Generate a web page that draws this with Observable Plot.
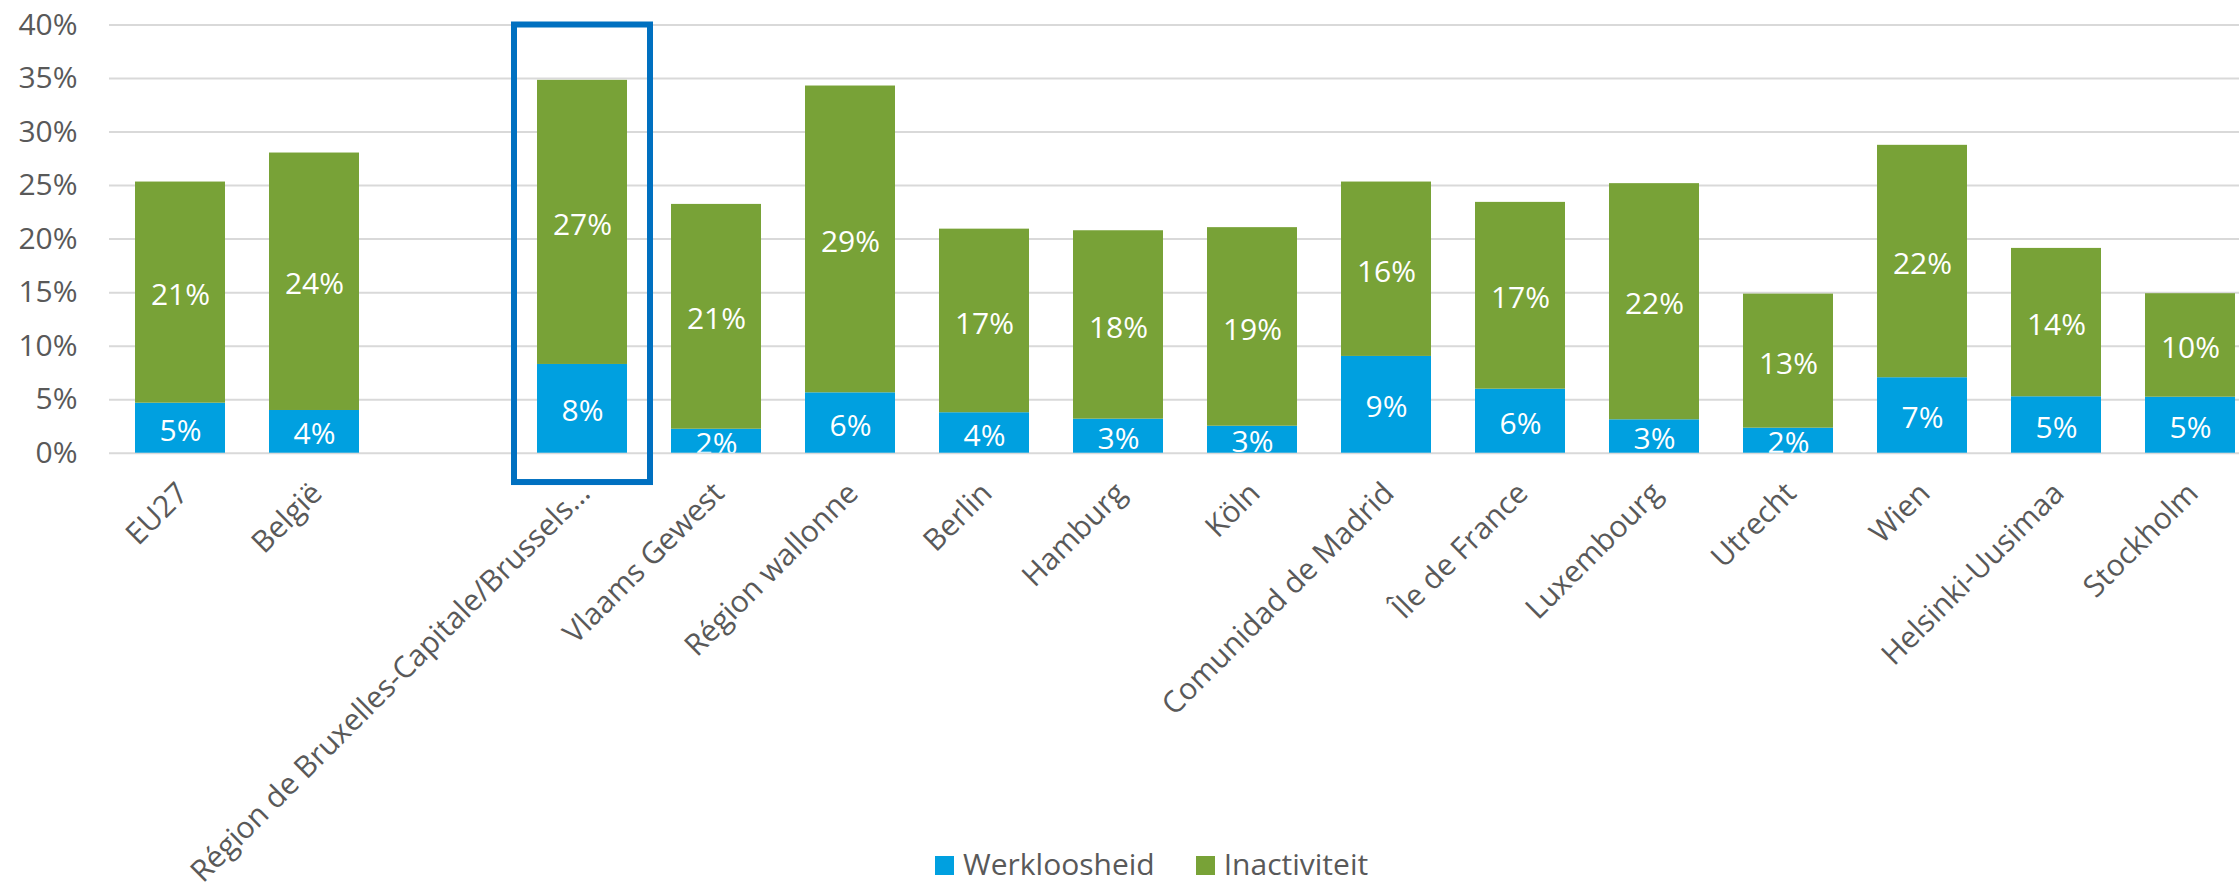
<!DOCTYPE html>
<html>
<head>
<meta charset="utf-8">
<script src="https://cdn.jsdelivr.net/npm/d3@7"></script>
<script src="https://cdn.jsdelivr.net/npm/@observablehq/plot@0.6"></script>
<style>
  html, body { margin: 0; padding: 0; background: #fff; overflow: hidden; }
  body { position: relative; width: 2239px; height: 885px; font-family: "Open Sans", sans-serif; }
  #legend { position: absolute; left: 0; top: 849px; height: 30px; line-height: 30px; font-size: 30px; color: #595959; padding-left: 935px; white-space: nowrap; }
  #legend .item { display: inline-block; margin-right: 41px; }
  #legend .sw { display: inline-block; width: 19px; height: 19px; margin-right: 9px; vertical-align: baseline; }
</style>
</head>
<body>
<div id="chart"></div>
<div id="legend"></div>
<script>
// ---- data ----
const regions = [
  "EU27", "België", "Région de Bruxelles-Capitale/Brussels…", "Vlaams Gewest", "Région wallonne",
  "Berlin", "Hamburg", "Köln", "Comunidad de Madrid", "Île de France", "Luxembourg",
  "Utrecht", "Wien", "Helsinki-Uusimaa", "Stockholm"
];
// order of the category axis, with an empty slot after België
const axisOrder = [
  "EU27", "België", "", "Région de Bruxelles-Capitale/Brussels…", "Vlaams Gewest", "Région wallonne",
  "Berlin", "Hamburg", "Köln", "Comunidad de Madrid", "Île de France", "Luxembourg",
  "Utrecht", "Wien", "Helsinki-Uusimaa", "Stockholm"
];
const werkloosheid = [4.67, 3.99, 8.29, 2.24, 5.64, 3.78, 3.18, 2.52, 9.04, 5.98, 3.12, 2.34, 7.05, 5.27, 5.23];
const inactiviteit = [20.66, 24.05, 26.54, 21.0, 28.66, 17.15, 17.6, 18.55, 16.29, 17.45, 22.06, 12.52, 21.71, 13.86, 9.67];
const seriesNames = ["Werkloosheid", "Inactiviteit"];
const seriesColors = ["#00a0e0", "#78a237"];
const yTicks = [0, 5, 10, 15, 20, 25, 30, 35, 40];
const highlightRegion = "Région de Bruxelles-Capitale/Brussels…";
const highlightRange = [-2.74, 40];

// ---- build stacked rows ----
const rows = regions.flatMap((r, i) => {
  const u = werkloosheid[i], a = inactiviteit[i];
  return [
    {region: r, series: seriesNames[0], value: u, y1: 0, y2: u, mid: u / 2},
    {region: r, series: seriesNames[1], value: a, y1: u, y2: u + a, mid: u + a / 2}
  ];
});
const highlight = [{region: highlightRegion, y1: highlightRange[0], y2: highlightRange[1]}];

const chart = Plot.plot({
  width: 2239,
  height: 885,
  marginLeft: 109,
  marginRight: 0,
  marginTop: 24.5,
  marginBottom: 432.3,
  style: {fontFamily: '"Open Sans", sans-serif', fontSize: "30px", background: "#fff", overflow: "visible"},
  x: {domain: axisOrder, range: [108.5, 2260.5], paddingInner: 0.33, paddingOuter: 0.165, align: 0.5},
  y: {domain: [0, 40], label: null},
  color: {domain: seriesNames, range: seriesColors},
  marks: [
    Plot.ruleY(yTicks, {stroke: "#d9d9d9", strokeWidth: 2}),
    Plot.barY(rows, {x: "region", y1: "y1", y2: "y2", fill: "series"}),
    Plot.text(rows, {
      x: "region", y: "mid", text: d => Math.round(d.value) + "%",
      fill: "white", fontSize: 30, dy: 3, lineAnchor: "middle", clip: true
    }),
    Plot.barY(highlight, {
      x: "region", y1: "y1", y2: "y2", fill: "none",
      stroke: "#0070c0", strokeWidth: 6, insetLeft: -23, insetRight: -23
    }),
    Plot.axisY(yTicks, {
      tickSize: 0, tickPadding: 32, tickFormat: d => d + "%",
      fontSize: 30, color: "#595959", label: null
    }),
    Plot.axisX({
      tickRotate: -45, tickSize: 0, tickPadding: 35, dx: 2.5,
      textAnchor: "end", lineAnchor: "middle",
      fontSize: 30, color: "#595959", label: null
    })
  ]
});
document.getElementById("chart").appendChild(chart);

// ---- legend ----
const legend = document.getElementById("legend");
seriesNames.forEach((name, i) => {
  const item = document.createElement("span");
  item.className = "item";
  const sw = document.createElement("span");
  sw.className = "sw";
  sw.style.background = seriesColors[i];
  item.appendChild(sw);
  item.appendChild(document.createTextNode(name));
  legend.appendChild(item);
});
</script>
</body>
</html>
